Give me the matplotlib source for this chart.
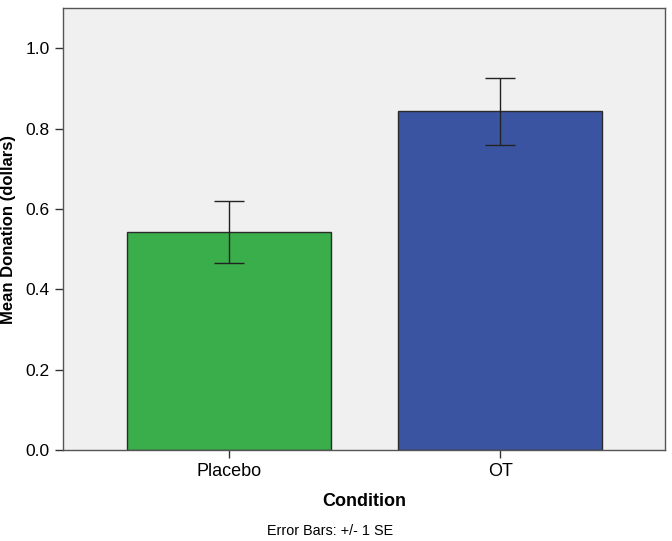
import matplotlib.pyplot as plt
import numpy as np

plt.rcParams['font.family'] = ['Liberation Sans', 'DejaVu Sans']

conditions = ['Placebo', 'OT']
means = [0.543, 0.843]
se = [0.077, 0.083]
colors = ['#39ae4a', '#3a54a2']

fig = plt.figure(figsize=(6.72, 5.41), dpi=100)
ax = fig.add_axes([0.094, 0.168, 0.896, 0.817])
ax.set_facecolor('#f0f0f0')

x = np.arange(len(conditions))
ax.bar(x, means, width=0.753, color=colors, edgecolor='#2b2b2b', linewidth=1.0, zorder=2)
ax.errorbar(x, means, yerr=se, fmt='none', ecolor='#222222', elinewidth=1.0,
            capsize=10.5, capthick=1.0, zorder=3)

ax.set_xlim(-0.6125, 1.609)
ax.set_ylim(0, 1.1)
ax.set_xticks(x)
ax.set_xticklabels(conditions, fontsize=13)
ax.set_yticks([0.0, 0.2, 0.4, 0.6, 0.8, 1.0])
ax.set_yticklabels(['0.0', '0.2', '0.4', '0.6', '0.8', '1.0'], fontsize=12.5)
ax.tick_params(axis='both', direction='out', length=6, width=1.0, color='#333333')
for s in ax.spines.values():
    s.set_color('#555555')
    s.set_linewidth(1.0)

ax.set_xlabel('Condition', fontsize=13, fontweight='bold', labelpad=9)
ax.set_ylabel('Mean Donation (dollars)', fontsize=12, fontweight='bold', labelpad=7)

fig.text(0.491, 0.0185, 'Error Bars: +/- 1 SE', fontsize=10.4, ha='center', va='center')

fig.savefig('out.png', dpi=100)
